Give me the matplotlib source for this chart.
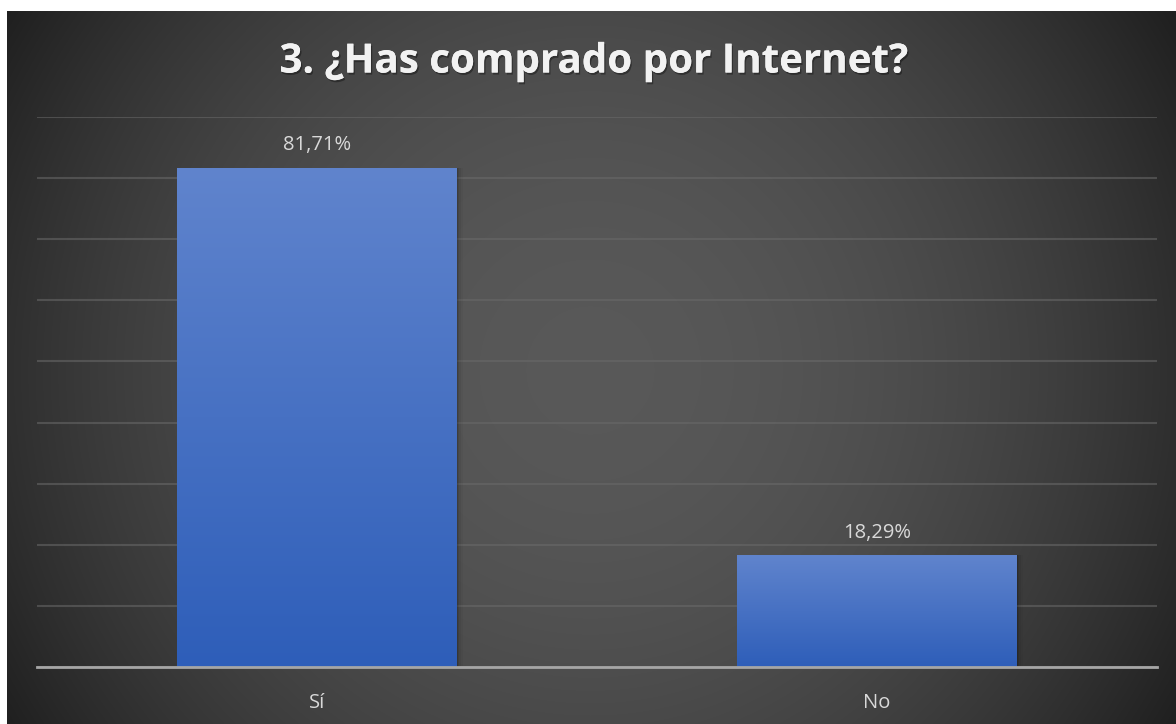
import matplotlib
matplotlib.use("Agg")
import matplotlib.pyplot as plt
import matplotlib.patheffects as pe
import numpy as np

categories = ["Sí", "No"]
shares = [81.71, 18.29]
labels = ["81,71%", "18,29%"]
title = "3. ¿Has comprado por Internet?"

W, H = 1176, 724
fig = plt.figure(figsize=(W / 100, H / 100), dpi=100, facecolor="white")

# dark radial background of the chart area
bg_left, bg_top = 7, 11
bg = fig.add_axes([bg_left / W, 0, (W - bg_left) / W, (H - bg_top) / H])
yy, xx = np.mgrid[0:H - bg_top, 0:W - bg_left]
cx, cy = 590 - bg_left, 370 - bg_top
d = np.hypot(xx - cx, yy - cy) / 690.0
shade = 88 - 58 * np.clip(d, 0, 1.1) ** 2
shade = np.round(shade) / 255.0
bg.imshow(np.dstack([shade] * 3), aspect="auto", interpolation="bilinear")
bg.set_axis_off()

# plot area
ax = fig.add_axes([37 / W, (H - 667) / H, 1120 / W, 550 / H])
ax.set_facecolor("none")
ax.set_xlim(-0.5, 1.5)
ax.set_ylim(0, 90)
ax.set_yticks(np.arange(0, 91, 10))
ax.yaxis.grid(True, color="#6a6a6a", linewidth=1.5, alpha=0.55)
ax.set_axisbelow(True)
for s in ["top", "right", "left"]:
    ax.spines[s].set_visible(False)
ax.spines["bottom"].set_color("#a6a6a6")
ax.spines["bottom"].set_linewidth(2)
ax.spines["bottom"].set_zorder(5)
ax.tick_params(left=False, bottom=False, labelleft=False)
ax.set_xticks(range(len(categories)))
ax.set_xticklabels(categories, fontsize=14.5, color="#d9d9d9", family="Open Sans")
ax.tick_params(axis="x", pad=15)

x = np.arange(len(categories))
bars = ax.bar(x, shares, width=0.5, color="none", edgecolor="none", zorder=3)

top_c = np.array([96, 132, 205]) / 255
bot_c = np.array([46, 94, 185]) / 255
grad = np.linspace(0, 1, 256)[:, None]
grad_img = top_c[None, None, :] * (1 - grad[..., None]) + bot_c[None, None, :] * grad[..., None]
for b in bars:
    x0, w, h = b.get_x(), b.get_width(), b.get_height()
    # soft shadow on the right of each bar
    for k, a in [(0.002, 0.12), (0.004, 0.08), (0.007, 0.05), (0.010, 0.03)]:
        ax.add_patch(plt.Rectangle((x0 + k, 0), w, h, color="black", alpha=a,
                                   linewidth=0, zorder=2))
    im = ax.imshow(np.repeat(grad_img, 2, axis=1), extent=[x0, x0 + w, 0, h],
                   aspect="auto", zorder=3, interpolation="bilinear")
    im.set_clip_path(b)

for xi, v, lab in zip(x, shares, labels):
    ax.annotate(lab, (xi, v), xytext=(0, 9), textcoords="offset points",
                ha="center", va="bottom", fontsize=14.5, color="#d9d9d9", family="Open Sans")

fig.text(593 / W, 1 - 62 / H, title, ha="center", va="center", fontsize=29,
         fontweight="bold", color="#f2f2f2", family="Open Sans",
         path_effects=[pe.withSimplePatchShadow(offset=(1, -1.5), shadow_rgbFace="black", alpha=0.35),
                       pe.Normal()])

fig.savefig("out.png", dpi=100, facecolor="white")
